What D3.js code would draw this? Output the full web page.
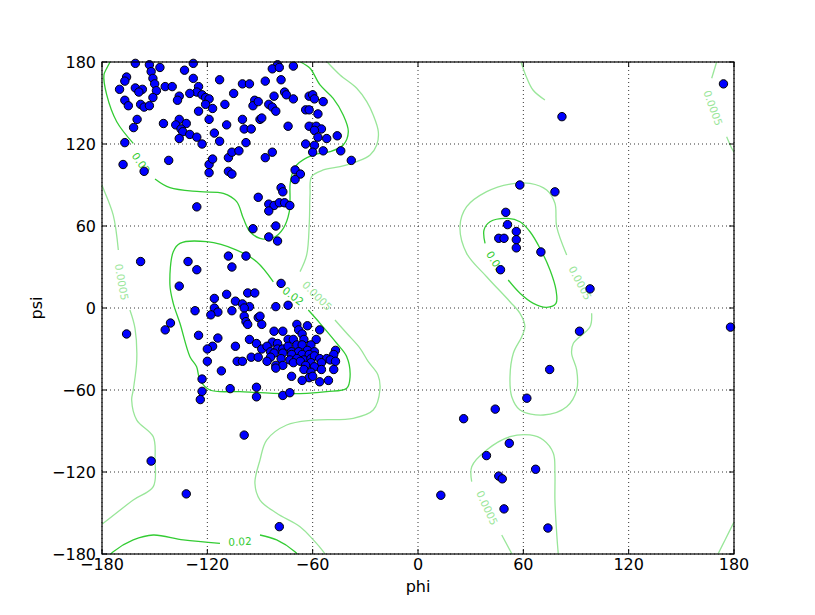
<!DOCTYPE html>
<html><head><meta charset="utf-8">
<script src="https://cdn.jsdelivr.net/npm/d3@7"></script>
<style>body{margin:0;background:#fff}text{font-family:"DejaVu Sans",sans-serif}</style>
</head><body><svg id="c" width="815" height="615"></svg>
<script>
// ---------- data ----------
const tickValues = [-180,-120,-60,0,60,120,180];
const xLabel = "phi", yLabel = "psi";

const phi = [-161,-153,-147,-152,-133,-128,-166,-167,-151,-150,-128,-113,-100,-96,-170,-161,-157,-159,-149,-144,-140,-125,-126,-130,-123,-105,-136,-137,-151,-167,-165,-158,-156,-153,-121,-119,-121,-117,-110,-93,-94,-125,-160,-162,-145,-136,-138,-132,-135,-134,-136,-130,-126,-123,-119,-116,-113,-109,-100,-99,-95,-98,-167,-168,-156,-142,-119,-117,-119,-108,-106,-102,-108,-106,-90,
-80,-83,-79,-71,-87,-78,-82,-76,-75,-71,-91,-85,-83,-81,-62,-60,-59,-54,-64,-62,-57,-89,-74,-62,-58,-55,-59,-57,-52,-46,-64,-59,-60,-54,-44,-38,-83,-87,-70,-67,-70,
-78,-77,-91,-85,-82,-79,-76,-73,-85,-94,-81,-85,-80,-98,-78,
-126,-158,-131,-126,-108,-106,-136,-116,-109,-104,-97,-93,-100,
-96,-99,-116,-114,-118,-106,-127,-99,-98,-97,-91,-141,-144,-166,-125,-114,-96,-92,-117,-120,-104,-120,-103,-100,-95,-91,-112,-123,-107,-92,-123,-124,-92,
-81,-74,-90,-89,-82,-77,-69,-63,-56,-68,-66,-83,-80,-74,-71,-65,-58,-69,-80,-77,-74,-66,-61,-89,-86,-84,-82,-77,-72,-68,-63,-59,-47,-48,-72,-66,-62,-84,-78,-73,-69,-65,-61,-59,-56,-52,-50,-47,-86,-81,-77,-71,-67,-61,-55,-81,-64,-59,-65,-61,-55,-48,-72,-62,-60,-66,-56,-51,-77,-73,
-152,-99,-132,-79,
58,78,50,51,56,46,49,56,56,70,47,98,
92,75,62,44,26,52,39,67,46,48,13,49,74,174,178,82];
const psi = [179,178,176,173,174,179,169,166,168,164,168,167,164,164,160,161,160,158,159,162,162,162,158,157,156,157,155,152,154,152,148,149,147,148,154,153,149,146,149,152,148,144,138,132,135,138,134,135,131,129,124,127,125,120,138,128,122,134,138,131,131,121,121,105,100,108,105,109,99,110,114,115,100,98,138,
178,175,176,177,166,167,155,158,156,153,151,149,147,144,155,156,153,151,145,145,142,139,133,133,133,131,130,125,124,126,120,119,114,115,115,108,114,110,101,98,94,
88,85,81,76,75,77,77,75,71,58,60,52,49,38,18,
74,34,34,28,38,30,16,7,10,5,11,11,3,
1,0,0,-3,-5,-2,-2,-6,-10,-12,-7,-11,-16,-19,-20,-22,-23,-26,-28,-30,-28,-39,-39,-39,-36,-36,-46,-52,-59,-58,-61,-67,-65,
1,2,-6,-12,-17,-17,-12,-13,-16,-16,-19,-25,-26,-23,-23,-23,-23,-27,-30,-30,-28,-27,-27,-30,-28,-32,-33,-33,-32,-32,-31,-32,-31,-34,-34,-34,-34,-36,-37,-38,-37,-38,-37,-35,-37,-37,-38,-39,-39,-42,-42,-40,-39,-40,-40,-44,-42,-43,-45,-47,-45,-45,-50,-51,-50,-53,-54,-53,-64,-62,
-112,-93,-136,-160,
90,85,70,61,56,51,51,50,44,41,28,14,
-17,-45,-66,-74,-81,-99,-108,-118,-123,-125,-137,-147,-161,164,-14,140];

// contour lines (phi, psi) for level 0.02
const c02Beta1 = [[-175.4,180],[-177.3,175.4],[-178.9,170.5],[-177.3,155.9],[-171.6,136.3],[-162.2,120.5]];
const c02Beta2 = [[-149.8,94.4],[-141.3,88],[-124.2,85.1],[-110.9,83.9],[-103.3,77.8],[-99.5,65.6],[-95.7,55.8],[-90,51],[-82.4,51.4],[-76.7,58.3],[-73.3,70.5],[-72.9,80],[-72.9,90],[-71.9,97.3],[-69.1,104.6],[-59.6,112],[-50.1,114.4],[-42.6,119.3],[-39.7,129],[-42.6,141.2],[-48.3,153.4],[-55.8,163.2],[-61.5,175.4],[-67,180]];
const c02Alpha = [[-62.5,-1.5],[-55.8,-11.2],[-46.3,-25.8],[-40.6,-35.6],[-38.7,-50.3],[-40.6,-58.8],[-52,-61.2],[-63.4,-62.4],[-82.4,-62.4],[-101.4,-61.2],[-118.5,-60],[-124.2,-52.7],[-126.1,-43],[-129.9,-35.6],[-135.6,-11.2],[-139.4,3.4],[-141.3,16.8],[-139.4,41.2],[-135.6,47.3],[-120.4,48.5],[-103.3,42.4],[-91.9,33.9],[-82.4,19.2]];
const c02Bottom1 = [[-174.9,-180],[-173.6,-178.3],[-162.2,-169.7],[-150.8,-166.1],[-133.7,-169.7],[-112.8,-172.2]];
const c02Bottom2 = [[-90,-166.1],[-80.5,-169.7],[-70.1,-178.3],[-68.9,-180]];
const c02Left = [[38.2,47.3],[37.6,57.1],[41,63.1],[50.5,65.6],[58.1,63.1],[63.8,55.8],[69.5,43.7],[75.2,27.8],[78.6,13.2],[78.6,3.4],[73.3,0.5],[65.7,3.4],[58.1,10.8],[51.4,20.5]];

// contour lines for level 0.0005
const c05Left1 = [[-180,90],[-179.3,87.6],[-173.6,68],[-170.7,42.4]];
const c05Left2 = [[-164.1,-1.5],[-161.2,-14.9],[-160.2,-38],[-162.2,-60],[-163.1,-67.3],[-160.2,-82],[-150.8,-94.2],[-149.8,-111.2],[-150.8,-130.7],[-162.2,-140.5],[-179.3,-157.5],[-180,-158]];
const c05Mid1 = [[-51.7,180],[-44.4,170.5],[-34.9,160.8],[-29.2,151],[-25.5,141.2],[-22.6,129],[-23.5,119.3],[-27.3,112],[-34.9,107.1],[-44.4,103.4],[-53.9,101],[-60.6,96.1],[-61.5,82.7],[-61.9,63.1],[-63.4,38.8],[-67.2,26.6]];
const c05Mid2 = [[-47.3,-8.8],[-40.6,-18.5],[-33,-29.5],[-28.3,-39.3],[-22.8,-49],[-21.7,-60],[-25.5,-74.6],[-36.9,-80.7],[-59.6,-82],[-74.8,-85.6],[-86.2,-96.6],[-90,-111.2],[-92.9,-128.3],[-90,-140.5],[-80.5,-150.2],[-67.2,-160],[-59.6,-169.7],[-53.9,-178.3],[-53,-180]];
const c05TopRight1 = [[170.1,180],[167.3,168.1]];
const c05TopRight2 = [[175.8,125.3],[178.7,116.9],[180,114]];
const c05BotRight = [[170.9,-180],[174.9,-169.7],[180,-156.6]];
const c05LeftHanded = [[98.9,-3.9],[98,-13.7],[88.5,-25.8],[87.5,-33.1],[90.4,-45.4],[90.4,-60],[84.7,-72.2],[71.4,-78.3],[58.1,-74.6],[53.4,-64.9],[52.4,-50.3],[54.3,-33.1],[59.1,-21],[60.9,-13.7],[58.1,-3.9],[52.4,4.6],[39.1,22.9],[27.7,40],[23.9,59.5],[27.7,74.1],[39.1,85.1],[52.4,90.7],[63.8,91.2],[73.3,86.3],[78,76.6],[79,59.5],[84.7,38.8]];
const c05Bot1 = [[53.5,-180],[47.7,-166.1]];
const c05Bot2 = [[30.6,-127.1],[30.6,-116.1],[39.1,-103.9],[52.4,-94.2],[63.8,-92.9],[71.4,-96.6],[77.1,-106.3],[78,-121],[78,-140.5],[79,-164.9],[79.9,-180]];
const c05Top = [[58.7,180],[61.5,169.8],[65.5,159.5],[72.3,152.2]];

const lines02 = [c02Beta1,c02Beta2,c02Alpha,c02Bottom1,c02Bottom2,c02Left];
const lines05 = [c05Left1,c05Left2,c05Mid1,c05Mid2,c05TopRight1,c05TopRight2,c05BotRight,c05LeftHanded,c05Bot1,c05Bot2,c05Top];

const labelText = ["0.02","0.02","0.02","0.02","0.0005","0.0005","0.0005","0.0005","0.0005"];
const labelPhi  = [-157.8,-71.2,-101.4,43.9,-168.9,-57.5,168,92.3,39.3];
const labelPsi  = [106,8.8,-171,33.7,19,8.8,146.3,18.3,-146.3];
const labelAng  = [55,37,-3,58,80,45,70,62,65];

// ---------- drawing ----------
const svg = d3.select("#c");
const L=102,R=734,T=62,B=554;
const x = d3.scaleLinear().domain([-180,180]).range([L,R]);
const y = d3.scaleLinear().domain([-180,180]).range([B,T]);
const dark = "#33cc33", light = "#99e699";

// grid
const g = svg.append("g");
tickValues.forEach(v=>{
  g.append("line").attr("x1",x(v)).attr("x2",x(v)).attr("y1",T).attr("y2",B)
   .attr("stroke","#000").attr("stroke-width",0.8).attr("stroke-dasharray","1,3");
  g.append("line").attr("y1",y(v)).attr("y2",y(v)).attr("x1",L).attr("x2",R)
   .attr("stroke","#000").attr("stroke-width",0.8).attr("stroke-dasharray","1,3");
});

const line = d3.line().x(d=>x(d[0])).y(d=>y(d[1])).curve(d3.curveCatmullRom.alpha(0.5));
svg.append("g").selectAll("path").data(lines05).join("path")
  .attr("d",line).attr("fill","none").attr("stroke",light).attr("stroke-width",1.3);
svg.append("g").selectAll("path").data(lines02).join("path")
  .attr("d",line).attr("fill","none").attr("stroke",dark).attr("stroke-width",1.3);

svg.append("g").selectAll("text").data(labelText).join("text")
  .attr("transform",(d,i)=>`translate(${x(labelPhi[i])},${y(labelPsi[i])}) rotate(${labelAng[i]})`)
  .attr("text-anchor","middle").attr("dy","0.35em")
  .attr("font-size",10.5)
  .attr("fill",d=>d==="0.02"?dark:light)
  .text(d=>d);

// points
svg.append("g").selectAll("circle").data(phi).join("circle")
  .attr("cx",d=>x(d)).attr("cy",(d,i)=>y(psi[i])).attr("r",4.2)
  .attr("fill","#0000ff").attr("stroke","#000").attr("stroke-width",1);

// frame
svg.append("rect").attr("x",L).attr("y",T).attr("width",R-L).attr("height",B-T)
  .attr("fill","none").attr("stroke","#000").attr("stroke-width",1.2);

// ticks (inward, all sides)
const tk = svg.append("g").attr("stroke","#000").attr("stroke-width",1);
tickValues.forEach(v=>{
  tk.append("line").attr("x1",x(v)).attr("x2",x(v)).attr("y1",B).attr("y2",B-5);
  tk.append("line").attr("x1",x(v)).attr("x2",x(v)).attr("y1",T).attr("y2",T+5);
  tk.append("line").attr("y1",y(v)).attr("y2",y(v)).attr("x1",L).attr("x2",L+5);
  tk.append("line").attr("y1",y(v)).attr("y2",y(v)).attr("x1",R).attr("x2",R-5);
});
const fmt = d3.format("d");
svg.append("g").selectAll("text").data(tickValues).join("text")
  .attr("x",d=>x(d)).attr("y",B+16).attr("text-anchor","middle")
  .attr("font-size",16).text(d=>fmt(d));
svg.append("g").selectAll("text").data(tickValues).join("text")
  .attr("x",L-6).attr("y",d=>y(d)).attr("dy","0.36em").attr("text-anchor","end")
  .attr("font-size",16).text(d=>fmt(d));

svg.append("text").attr("x",(L+R)/2).attr("y",592).attr("text-anchor","middle")
  .attr("font-size",16).text(xLabel);
svg.append("text").attr("transform",`translate(42,${(T+B)/2}) rotate(-90)`)
  .attr("text-anchor","middle").attr("font-size",16).text(yLabel);
</script></body></html>
